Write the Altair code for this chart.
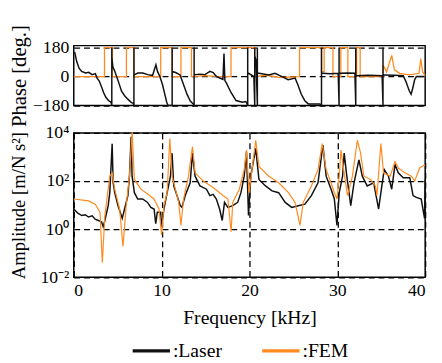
import altair as alt
import pandas as pd

FONT = "Liberation Serif"
ORANGE = "#FF8A1E"
BLACK = "#111111"

# ---------------- amplitude (m/Ns^2) ----------------
laser_amp_f = [0.0, 0.5, 0.93, 1.3, 1.68, 2.1, 2.43, 2.8, 3.17, 3.35, 3.54, 3.92, 4.10, 4.37, 4.48,
               4.66, 5.04, 5.52, 5.78, 6.16, 6.34, 6.53, 6.64, 6.90, 7.28, 7.84, 8.40, 8.77, 9.14,
               9.33, 9.51, 9.89, 10.0, 10.26, 10.63, 11.01, 11.19, 11.38, 11.75, 12.13, 12.31, 12.69,
               13.25, 13.51, 13.81, 14.37, 15.11, 15.49, 15.86, 16.23, 16.60, 16.90, 17.16, 17.54,
               18.10, 18.66, 19.03, 19.40, 19.66, 19.89, 20.15, 20.71, 21.08, 21.83, 22.57, 23.32,
               24.07, 24.81, 25.56, 26.31, 27.05, 27.80, 28.36, 28.73, 29.29, 29.66, 29.96, 30.22,
               30.60, 30.78, 31.08, 31.53, 31.90, 32.46, 32.84, 33.40, 34.14, 34.70, 35.07, 35.34,
               35.82, 36.19, 36.57, 36.94, 37.50, 38.25, 38.62, 38.99, 39.55, 39.93, 40.0]
laser_amp = [6.9, 4.5, 3.7, 4.0, 3.2, 3.6, 2.6, 2.3, 2.0, 1.26, 2.3, 9.5, 33, 3600, 85,
             33, 9.5, 2.8, 6.9, 25, 160, 6900, 160, 33, 18, 18, 13, 8.1, 6.9,
             1.7, 5.1, 5.1, 1.26, 6.9, 33, 160, 1450, 63, 25, 9.5, 8.1, 25,
             85, 1450, 160, 63, 46, 25, 28, 18, 6.9, 2.3, 13, 8.1,
             9.5, 13, 33, 160, 1660, 3.7, 160, 2300, 117, 63, 39, 33,
             13, 8.1, 9.5, 11, 25, 85, 3160, 160, 46, 18, 1.45, 33,
             160, 1450, 160, 9.5, 85, 760, 160, 63, 85, 6.9, 63, 300,
             160, 46, 480, 220, 138, 138, 25, 21, 18, 2.8, 120]

fem_amp_f = [0.0, 1.68, 2.43, 2.99, 3.25, 3.54, 4.10, 4.37, 4.66, 5.22, 5.60, 5.97, 6.34, 6.64,
             6.90, 7.65, 8.40, 9.14, 9.70, 10.0, 10.26, 10.63, 10.93, 11.19, 11.57, 11.94, 12.20,
             12.50, 13.06, 13.51, 13.81, 14.74, 15.86, 16.98, 17.54, 17.91, 18.10, 18.84, 19.40,
             19.66, 19.96, 20.71, 21.08, 22.20, 23.32, 24.44, 25.19, 25.75, 26.12, 27.05, 27.80,
             28.28, 28.73, 29.29, 29.66, 29.96, 30.22, 30.41, 30.78, 31.16, 31.72, 32.28, 32.65,
             33.02, 33.77, 34.33, 34.51, 34.96, 35.26, 36.01, 36.57, 36.94, 37.69, 38.43, 38.81,
             39.37, 40.0]
fem_amp = [18, 15, 11, 5.1, 0.04, 3.7, 160, 220, 46, 6.9, 0.19, 9.5, 160, 11000,
           117, 46, 29, 18, 6.9, 0.57, 9.5, 33, 5900, 160, 46, 13, 1.45,
           18, 160, 2700, 220, 100, 54, 25, 18, 0.78, 13, 46, 300,
           1950, 33, 5000, 410, 160, 85, 33, 13, 1.45, 13, 63, 300,
           3600, 300, 85, 33, 18, 160, 1950, 220, 25, 160, 5000, 1450,
           160, 117, 63, 25, 3600, 220, 160, 650, 350, 220, 160, 100,
           350, 480]

# ---------------- phase (deg.) ----------------
laser_ph_f = [0.1, 0.34, 0.6, 0.9, 1.34, 1.71, 2.09, 2.46, 2.64, 2.9, 3.2, 3.39, 3.65, 3.95, 4.25,
              4.33, 4.33, 4.33, 4.45, 4.69, 5.07, 5.44, 5.81, 6.18, 6.56, 6.74,
              6.85, 6.85, 6.85, 6.93, 7.3, 7.86, 8.42, 8.97, 9.35, 9.53, 9.8, 10.09, 10.36, 10.58,
              10.73, 11.2, 11.2, 11.2, 11.3, 11.6, 12.1, 12.5, 12.9, 13.26, 13.63,
              13.7, 13.7, 13.7, 13.82, 14.38, 14.94, 15.5, 15.87, 16.24, 16.98, 17.1, 17.2, 17.35,
              17.9, 18.47, 19.2, 19.59,
              19.8, 19.8, 19.8, 19.9, 20.5, 20.6, 20.6, 20.6, 20.75, 20.9, 20.9, 20.9,
              21.1, 22.2, 22.9, 23.7, 24.4, 25.2, 25.5, 25.9, 26.3, 26.7, 28.0,
              28.2, 28.2, 28.2, 28.3, 29.2, 30.1, 30.2, 30.2, 30.2, 30.3, 31.2, 32.0,
              32.1, 32.1, 32.1, 32.2, 33.5, 35.1, 35.2, 35.2, 35.2, 35.4, 36.5, 37.5, 37.8,
              38.2, 38.4, 38.6, 38.8, 39.0, 39.9]
laser_ph = [153, 93, 52, 32, 22, 26, 12, 18, -8, -28, -69, -99, -129, -149, -160,
            -180, 180, 120, 60, 30, -30, -91, -121, -142, -162, -165,
            -180, 180, 12, 12, 22, 22, 12, 6, 73, 32, 0, -48, -109, -160,
            -178, -180, 180, 30, 30, 25, 10, -51, -111, -152, -172,
            -180, 180, 12, 12, 15, 12, 32, 25, 0, -18, 143, -25, -38,
            -99, -149, -160, -155,
            -180, 180, 20, 20, 0, -180, 180, 130, 100, -180, 180, 20,
            20, 10, 20, 0, -20, -10, -50, -110, -150, -170, -170,
            -180, 180, 20, 20, 18, 20, -180, 180, 20, 20, 22, 20,
            -180, 180, 5, 5, 8, 5, -180, 180, 10, 10, 8, 5, -30,
            -90, -110, -70, -20, 0, 0]

fem_ph_f = [0.0, 3.5, 3.5, 4.4, 4.4, 6.0, 6.0, 6.85, 6.85, 9.9, 9.9, 11.2, 11.2, 12.2, 12.2,
            13.4, 13.4, 15.0, 16.5, 17.9, 17.9, 20.6, 20.6, 22.0, 23.5, 25.7, 25.7, 28.2, 28.2,
            28.5, 28.5, 29.5, 29.5, 30.4, 30.4, 31.2, 31.2, 32.2, 32.2, 32.6, 32.6, 35.2, 35.23,
            35.6, 36.2, 36.5, 37.1, 38.2, 39.3, 39.5, 39.7, 40.0]
fem_ph = [0, 0, 180, 180, 0, 0, 180, 180, 0, 0, 180, 180, 0, 0, 180,
          180, 0, 5, 0, 0, 180, 180, 0, 8, -6, 0, 180, 180, 30,
          30, 180, 180, 0, 0, 180, 180, 0, 0, 180, 180, 0, 0, 70,
          30, 131, 42, 20, 10, 20, 111, 30, 5]

freq_ticks = [0, 10, 20, 30, 40]
phase_ticks = [-180, 0, 180]
amp_ticks = [0.01, 1, 100, 10000]


def frame(fs, vs, name):
    return pd.DataFrame({"f": fs, "v": vs, "series": name, "i": list(range(len(fs)))})


amp_df = pd.concat([frame(laser_amp_f, laser_amp, "Laser"), frame(fem_amp_f, fem_amp, "FEM")])
ph_df = pd.concat([frame(laser_ph_f, laser_ph, "Laser"), frame(fem_ph_f, fem_ph, "FEM")])

color = alt.Color(
    "series:N",
    scale=alt.Scale(domain=["Laser", "FEM"], range=[BLACK, ORANGE]),
    legend=alt.Legend(
        title=None, orient="none", direction="horizontal", legendX=58, legendY=290,
        symbolType="stroke", symbolSize=1444, symbolStrokeWidth=3.5,
        labelFont=FONT, labelFontSize=20, labelColor="#000", labelOffset=1,
        columnPadding=34, labelExpr="':' + datum.label",
    ),
)

W = 358
LBL = dict(labelFont=FONT, labelFontSize=18, labelColor="#000", titleFont=FONT,
           titleColor="#000", titleFontWeight="normal")

x_phase = alt.X("f:Q", scale=alt.Scale(domain=[0, 40], nice=False),
                axis=alt.Axis(title=None, labels=False, ticks=False, grid=False, domain=False))
y_phase = alt.Y("v:Q", scale=alt.Scale(domain=[-180, 192], nice=False, zero=False),
                axis=alt.Axis(values=phase_ticks, title="Phase [deg.]",
                              titleFontSize=21, minExtent=40, maxExtent=40, titlePadding=5,
                              labelPadding=5, **LBL))

ph_base = alt.Chart(ph_df)
phase = alt.layer(
    ph_base.transform_filter("datum.series == 'FEM'").mark_line(strokeWidth=1.3).encode(
        x=x_phase, y=y_phase, color=color, order="i:Q"),
    ph_base.transform_filter("datum.series == 'Laser'").mark_line(strokeWidth=1.5).encode(
        x=x_phase, y=y_phase, color=color, order="i:Q"),
).properties(width=W, height=61)

x_amp = alt.X("f:Q", scale=alt.Scale(domain=[0, 40], nice=False),
              axis=alt.Axis(values=freq_ticks, title="Frequency [kHz]", grid=True,
                            labelPadding=5, titlePadding=8, titleFontSize=20, **LBL))
y_amp = alt.Y("v:Q", scale=alt.Scale(type="log", domain=[0.01, 10000], nice=False),
              axis=alt.Axis(values=amp_ticks, title="Amplitude [m/N s²]", titleFontSize=19,
                            minExtent=40, maxExtent=40, titlePadding=6, labelPadding=5,
                            labelExpr="datum.value >= 10000 ? '10⁴' : datum.value >= 100 ? '10²' : datum.value >= 1 ? '10⁰' : '10⁻²'",
                            **LBL))

amp_base = alt.Chart(amp_df)
amplitude = alt.layer(
    amp_base.transform_filter("datum.series == 'Laser'").mark_line(strokeWidth=1.5).encode(
        x=x_amp, y=y_amp, color=color, order="i:Q"),
    amp_base.transform_filter("datum.series == 'FEM'").mark_line(strokeWidth=1.2).encode(
        x=x_amp, y=y_amp, color=color, order="i:Q"),
).properties(width=W, height=147)

chart = alt.vconcat(phase, amplitude, spacing=28, bounds="flush").properties(
    padding={"left": 0, "top": 12, "right": 5, "bottom": 0}
).configure_view(stroke="#000", strokeWidth=1.5).configure_axis(
    ticks=False, domain=False,
    gridColor="#000", gridDash=[6, 4], gridWidth=1.3, gridOpacity=1,
)

chart.save("out.html", embed_options={"renderer": "svg", "actions": False})
